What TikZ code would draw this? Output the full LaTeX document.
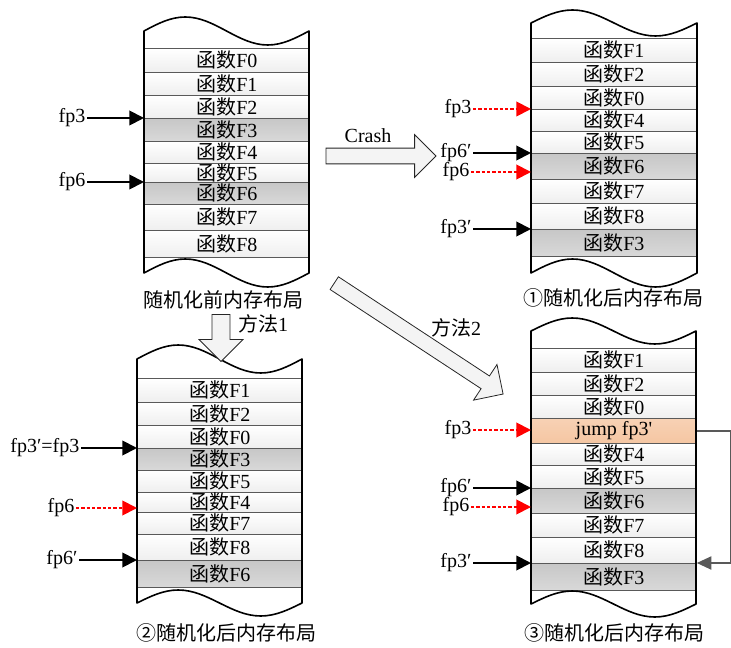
\documentclass[tikz,border=0pt]{standalone}
\usepackage{fontspec}
\setmainfont{Liberation Serif}
\newfontfamily\cjk{Noto Sans CJK SC}
\usetikzlibrary{arrows.meta,shapes.arrows}
\definecolor{peach}{HTML}{F5C6A2}
\definecolor{arrowfill}{HTML}{F4F4F4}

\begin{document}
\begin{tikzpicture}[x=0.75pt,y=-0.75pt,
    font=\fontsize{15}{18}\selectfont,
    row/.style={draw=gray!70!black, line width=0.6pt, top color=white, bottom color=gray!13,
        minimum width=123.75pt, inner sep=0pt, anchor=north west},
    hot/.style={row, top color=gray!44, bottom color=gray!30},
    jmp/.style={row, top color=peach!80!white, bottom color=peach},
    outline/.style={line width=1.2pt, line join=round},
    lab/.style={inner sep=1pt, anchor=east},
    title/.style={inner sep=1pt},
    ptr/.style={line width=1.4pt, -{Triangle[length=11pt,width=11pt]}},
    redptr/.style={ptr, red, dash pattern=on 2.5pt off 1.5pt},
    jumpline/.style={gray!70!black, line width=1pt, -{Triangle[length=11pt,width=10pt]}},
    bigarrow/.style={single arrow, draw=black!85, fill=arrowfill, line width=0.6pt,
        inner xsep=0pt, single arrow tip angle=90, sloped, allow upside down}]
    \useasboundingbox (0,0) rectangle (731,648);

    \foreach \t/\b/\lab/\kind in {48/72/F0/row, 72/95/F1/row, 95/118/F2/row, 118/141/F3/hot,
        141/163/F4/row, 163/182/F5/row, 182/204/F6/hot, 204/230/F7/row, 230/257/F8/row}
        \node[\kind, minimum height={(\b-\t)*0.75pt}] (tl\lab) at (144,\t) {{\cjk 函数}\lab};
    \draw[outline] (144,31) sin (185.25,17) cos (226.5,31) sin (267.75,45) cos (309,31) -- (309,273)
        sin (267.75,287) cos (226.5,273) sin (185.25,259) cos (144,273) -- cycle;
    \node[title] (tltitle) at (223,300) {\cjk 随机化前内存布局};
    \node[lab] (tlfp3) at (87,118) {fp3};
    \node[lab] (tlfp6) at (87,182) {fp6};
    \draw[ptr] (tlfp3) -- (tlfp3 -| tlF3.west);
    \draw[ptr] (tlfp6) -- (tlfp6 -| tlF6.west);

    \foreach \t/\b/\lab/\kind in {38/62/F1/row, 62/86/F2/row, 86/109/F0/row, 109/131/F4/row,
        131/153/F5/row, 153/179/F6/hot, 179/203/F7/row, 203/229/F8/row, 229/256/F3/hot}
        \node[\kind, minimum height={(\b-\t)*0.75pt}] (tr\lab) at (531,\t) {{\cjk 函数}\lab};
    \draw[outline] (531,23) sin (572.5,10) cos (614,23) sin (655.5,36) cos (697,23) -- (697,273)
        sin (655.5,287) cos (614,273) sin (572.5,259) cos (531,273) -- cycle;
    \node[title] (trtitle) at (613,298) {\cjk ①随机化后内存布局};
    \node[lab] (trfp3) at (473,109) {fp3};
    \node[lab] (trfp6b) at (473,153) {fp6′};
    \node[lab] (trfp6) at (471,172) {fp6};
    \node[lab] (trfp3b) at (473,229) {fp3′};
    \draw[redptr] (trfp3) -- (trfp3 -| trF4.west);
    \draw[ptr] (trfp6b) -- (trfp6b -| trF6.west);
    \draw[redptr] (trfp6) -- (trfp6 -| trF6.west);
    \draw[ptr] (trfp3b) -- (trfp3b -| trF3.west);

    \foreach \t/\b/\lab/\kind in {378/402/F1/row, 402/425/F2/row, 425/448/F0/row, 448/470/F3/hot,
        470/492/F5/row, 492/512/F4/row, 512/534/F7/row, 534/560/F8/row, 560/587/F6/hot}
        \node[\kind, minimum height={(\b-\t)*0.75pt}] (bl\lab) at (137,\t) {{\cjk 函数}\lab};
    \draw[outline] (137,359) sin (178.25,345) cos (219.5,359) sin (260.75,373) cos (302,359) -- (302,603)
        sin (260.75,616) cos (219.5,603) sin (178.25,590) cos (137,603) -- cycle;
    \node[title] (bltitle) at (226,633) {\cjk ②随机化后内存布局};
    \node[lab] (blfp3) at (81,448) {fp3′=fp3};
    \node[lab] (blfp6) at (76,508) {fp6};
    \node[lab] (blfp6b) at (79,560) {fp6′};
    \draw[ptr] (blfp3) -- (blfp3 -| blF3.west);
    \draw[redptr] (blfp6) -- (blfp6 -| blF4.west);
    \draw[ptr] (blfp6b) -- (blfp6b -| blF6.west);

    \foreach \t/\b/\lab/\kind in {348/372/F1/row, 372/395/F2/row, 395/418/F0/row, 443/465/F4/row,
        465/488/F5/row, 488/513/F6/hot, 513/537/F7/row, 537/563/F8/row, 563/590/F3/hot}
        \node[\kind, minimum height={(\b-\t)*0.75pt}] (br\lab) at (531,\t) {{\cjk 函数}\lab};
    \node[jmp, minimum height=18.75pt] (brjump) at (531,418) {jump fp3\textquotesingle};
    \draw[outline] (531,331) sin (572.25,318) cos (613.5,331) sin (654.75,344) cos (696,331) -- (696,604)
        sin (654.75,617) cos (613.5,604) sin (572.25,591) cos (531,604) -- cycle;
    \node[title] (brtitle) at (614,633) {\cjk ③随机化后内存布局};
    \node[lab] (brfp3) at (473,430) {fp3};
    \node[lab] (brfp6b) at (473,488) {fp6′};
    \node[lab] (brfp6) at (471,507) {fp6};
    \node[lab] (brfp3b) at (473,563) {fp3′};
    \draw[redptr] (brfp3) -- (brfp3 -| brjump.west);
    \draw[ptr] (brfp6b) -- (brfp6b -| brF6.west);
    \draw[redptr] (brfp6) -- (brfp6 -| brF6.west);
    \draw[ptr] (brfp3b) -- (brfp3b -| brF3.west);
    \draw[jumpline] (brjump.east) -- ++(34,0) |- (brF3.north east);

    \coordinate (crashs) at (322,156);
    \coordinate (crashe) at (432,156);
    \path (crashs) -- (crashe) node[midway, bigarrow, minimum height=82.5pt, minimum width=31.5pt,
        inner ysep=5.6pt, single arrow head extend=10.1pt] (crash) {};
    \node[title] (crashlab) at (368,136) {Crash};
    \coordinate (way1s) at (221,310);
    \coordinate (way1e) at (221,357);
    \path (way1s) -- (way1e) node[midway, bigarrow, minimum height=35.25pt, minimum width=32.25pt,
        inner ysep=6.4pt, single arrow head extend=9.8pt] (way1) {};
    \node[title] (way1lab) at (263,324) {{\cjk 方法}1};
    \coordinate (way2s) at (331,281);
    \coordinate (way2e) at (500,392);
    \path (way2s) -- (way2e) node[midway, bigarrow, minimum height=151.5pt, minimum width=31.5pt,
        inner ysep=5.4pt, single arrow head extend=10.3pt] (way2) {};
    \node[title] (way2lab) at (456,328) {{\cjk 方法}2};
\end{tikzpicture}
\end{document}
